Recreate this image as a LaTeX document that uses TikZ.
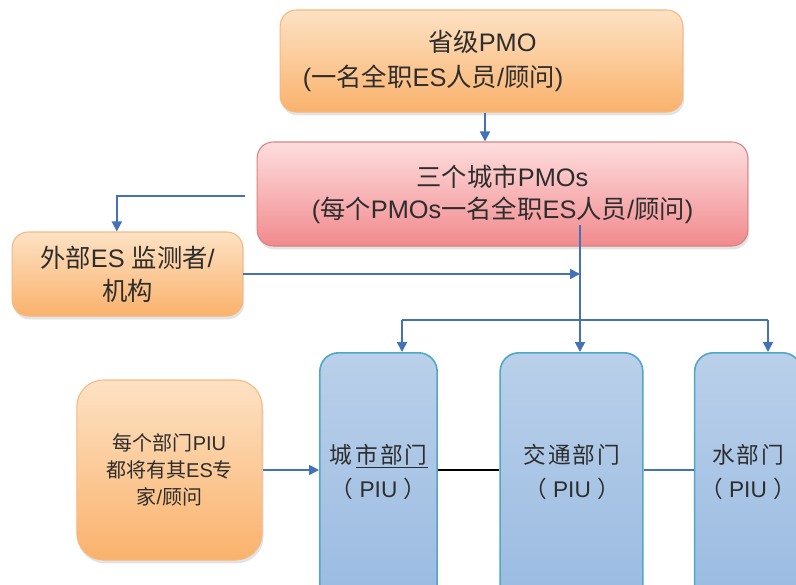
\documentclass[tikz,border=0pt]{standalone}
\usepackage{fontspec}
\setmainfont{Liberation Sans}
\newfontfamily\cjk{Noto Sans CJK SC}
\newfontfamily\cjkwide{Noto Sans CJK SC}[LetterSpace=8]
\newcommand{\zh}[1]{{\cjk #1}}
\newcommand{\zw}[1]{{\cjkwide #1}}
\usetikzlibrary{arrows.meta,shadows}

\definecolor{orangetop}{RGB}{253,226,196}
\definecolor{orangebottom}{RGB}{250,178,108}
\definecolor{orangeline}{RGB}{246,184,128}
\definecolor{redtop}{RGB}{254,222,222}
\definecolor{redbottom}{RGB}{241,138,142}
\definecolor{redline}{RGB}{222,128,130}
\definecolor{bluetop}{RGB}{186,208,234}
\definecolor{bluebottom}{RGB}{148,183,224}
\definecolor{blueline}{RGB}{80,168,196}
\definecolor{linkblue}{RGB}{68,114,182}
\definecolor{textgray}{RGB}{45,45,45}

\tikzstyle{orangebag} = [rounded corners=12pt, draw=orangeline, line width=0.8pt, top color=orangetop, bottom color=orangebottom, text=textgray, drop shadow={opacity=0.22, shadow xshift=1pt, shadow yshift=-2.5pt}]
\tikzstyle{redbag} = [rounded corners=12pt, draw=redline, line width=0.8pt, top color=redtop, bottom color=redbottom, text=textgray, drop shadow={opacity=0.22, shadow xshift=1pt, shadow yshift=-2.5pt}]
\tikzstyle{piu} = [rounded corners=14pt, draw=blueline, line width=1.2pt, top color=bluetop, bottom color=bluebottom, anchor=north, minimum height=220pt]
\tikzstyle{piutext} = [align=center, text=textgray, font={\fontsize{17}{25}\selectfont}]
\tikzstyle{link} = [draw=linkblue, line width=1.3pt, -{Triangle[length=7.5pt,width=7.5pt]}]

\begin{document}
\begin{tikzpicture}[x=0.75pt,y=-0.75pt]
	  \useasboundingbox (0,0) rectangle (796,585);
	  \clip (0,0) rectangle (796,585);

	  \node (prov) at (481.5,61) [orangebag, minimum width=302pt, minimum height=76.5pt, inner xsep=17pt, text width=268pt, align=left, font={\fontsize{19}{26}\selectfont}] {\hspace*{94pt}\zh{省级}PMO\\(\zh{一名全职}ES\zh{人员}/\zh{顾问})};
	  \node (city) at (502.5,194) [redbag, minimum width=368pt, minimum height=78pt, align=center, font={\fontsize{19}{24}\selectfont}] {\zh{三个城市}PMOs\\(\zh{每个}PMOs\zh{一名全职}ES\zh{人员}/\zh{顾问})};
	  \node (ext) at (127.5,274) [orangebag, minimum width=173pt, minimum height=63pt, align=center, font={\fontsize{19}{25}\selectfont}] {\zh{外部}ES \zh{监测者}/\\\zh{机构}};
	  \node (each) at (169.5,470) [orangebag, rounded corners=20pt, minimum width=139pt, minimum height=135pt, align=center, font={\fontsize{15}{20}\selectfont}] {\zh{每个部门}PIU\\\zh{都将有其}ES\zh{专}\\\zh{家}/\zh{顾问}};

	  \node (urban) at (378.5,352) [piu, minimum width=88pt] {};
	  \node (traffic) at (571.5,352) [piu, minimum width=107pt] {};
	  \node (water) at (748,352) [piu, minimum width=80pt] {};
	  \node (urbantext) at (378.5,472) [piutext] {\zw{城}\,\underline{\zw{市部门}}\\\zh{（} PIU \zh{）}};
	  \node (traffictext) at (572,472) [piutext] {\zw{交通部门}\\\zh{（} PIU \zh{）}};
	  \node (watertext) at (748,472) [piutext] {\zw{水部门}\\\zh{（} PIU \zh{）}};

	  \coordinate (cityleft) at (245,196);
	  \coordinate (trunktop) at (580,225);
	  \coordinate (split) at (580,320);
	  \coordinate (busleft) at (402,320);
	  \coordinate (busright) at (768,320);

	  \draw [link] (prov.south -| 485,0) to (city.north -| 485,0);
	  \draw [link] (cityleft) -| ([xshift=-8pt]ext.north);
	  \draw [draw=linkblue, line width=1.3pt] (trunktop) to (split);
	  \draw [link] (ext.east) to (ext.east -| split);
	  \draw [draw=linkblue, line width=1.3pt] (busleft) to (busright);
	  \draw [link] (busleft) to (busleft |- urban.north);
	  \draw [link] (split) to (split |- traffic.north);
	  \draw [link] (busright) to (busright |- water.north);
	  \draw [link] (each.east) to (each.east -| urban.west);
	  \draw [black, line width=1.3pt] (each.east -| urban.east) to (each.east -| traffic.west);
	  \draw [linkblue, line width=1pt] (each.east -| traffic.east) to (each.east -| water.west);
	\end{tikzpicture}
\end{document}
